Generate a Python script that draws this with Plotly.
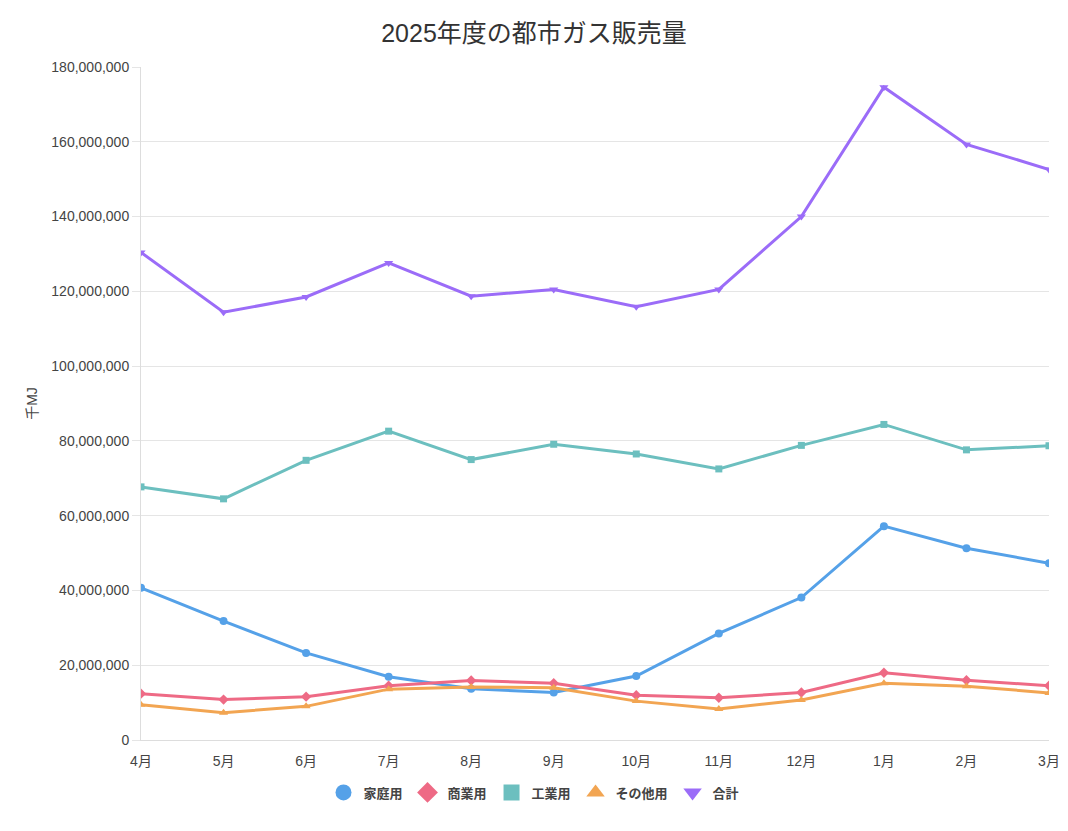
import plotly.graph_objects as go

months = ["4月", "5月", "6月", "7月", "8月", "9月", "10月", "11月", "12月", "1月", "2月", "3月"]
residential = [40.7e6, 31.8e6, 23.3e6, 16.9e6, 13.7e6, 12.7e6, 17.1e6, 28.5e6, 38.1e6, 57.2e6, 51.3e6, 47.3e6]
commercial = [12.4e6, 10.8e6, 11.6e6, 14.5e6, 15.9e6, 15.2e6, 12.0e6, 11.3e6, 12.7e6, 18.0e6, 16.0e6, 14.5e6]
industrial = [67.7e6, 64.5e6, 74.8e6, 82.6e6, 75.0e6, 79.1e6, 76.5e6, 72.5e6, 78.8e6, 84.4e6, 77.6e6, 78.7e6]
other = [9.4e6, 7.3e6, 9.0e6, 13.6e6, 14.2e6, 14.0e6, 10.4e6, 8.3e6, 10.7e6, 15.2e6, 14.4e6, 12.6e6]
total = [130.4e6, 114.4e6, 118.5e6, 127.6e6, 118.7e6, 120.5e6, 115.9e6, 120.5e6, 140.0e6, 174.6e6, 159.3e6, 152.6e6]

series = [
    ("家庭用", residential, "#55a1e8", "circle", 8),
    ("商業用", commercial, "#ee6a85", "diamond", 8),
    ("工業用", industrial, "#6cbfbf", "square", 7),
    ("その他用", other, "#f2a552", "triangle-up", 8),
    ("合計", total, "#9b6cf8", "triangle-down", 8),
]

FONT = "Liberation Sans, Arial, Noto Sans CJK JP, sans-serif"

fig = go.Figure()
for name, vals, color, sym, size in series:
    fig.add_trace(go.Scatter(
        x=months, y=vals, name=name, mode="lines+markers",
        line=dict(color=color, width=3),
        marker=dict(color=color, symbol=sym, size=size),
        showlegend=False, legendgroup=name,
    ))
# legend entries: marker-only symbols
for name, vals, color, sym, size in series:
    fig.add_trace(go.Scatter(
        x=[None], y=[None], name=name, mode="markers",
        marker=dict(color=color, symbol=sym, size=16),
        showlegend=True, legendgroup=name,
    ))

fig.update_layout(
    width=1068, height=831,
    margin=dict(l=141, r=19, t=67, b=91, autoexpand=False),
    paper_bgcolor="white", plot_bgcolor="white",
    font=dict(family=FONT, color="#444", size=14),
    title=dict(text="2025年度の都市ガス販売量", x=0.5, xanchor="center", y=0.96, yanchor="middle",
               font=dict(size=25, color="#333", family=FONT)),
    showlegend=True,
    legend=dict(orientation="h", xref="container", x=0.5, xanchor="center",
                y=-0.078, yanchor="middle",
                font=dict(size=13, color="#444", family=FONT, weight="bold"),
                itemsizing="trace", traceorder="normal", itemwidth=30),
    xaxis=dict(
        type="category", range=[0, 11], showgrid=False, zeroline=False,
        showline=True, linecolor="#ddd", linewidth=1, automargin=False,
        ticks="", ticklabelstandoff=8,
        tickfont=dict(size=14, color="#444"),
    ),
    yaxis=dict(
        range=[0, 180e6], dtick=20e6, tickformat=",d", automargin=False,
        showgrid=True, gridcolor="#e5e5e5", gridwidth=1,
        zeroline=False, showline=True, linecolor="#ddd", linewidth=1,
        ticks="outside", ticklen=8, tickcolor="#e5e5e5",
        tickfont=dict(size=14, color="#444"),
        title=dict(text="千MJ", font=dict(size=14, color="#444"), standoff=10),
    ),
)

fig.write_html("out.html")
